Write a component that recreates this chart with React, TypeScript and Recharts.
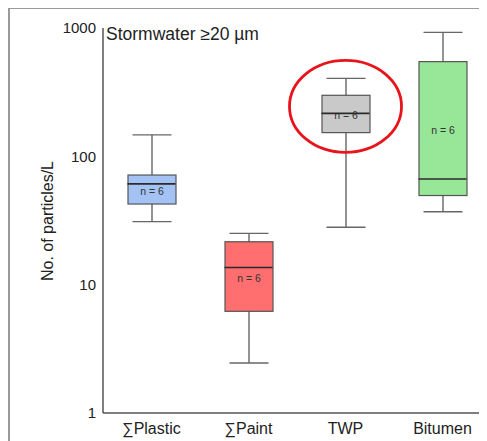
import React from 'react';
import { ComposedChart, Bar, Scatter, XAxis, YAxis, ReferenceDot } from 'recharts';

const CATEGORIES = ['∑Plastic', '∑Paint', 'TWP', 'Bitumen'];
const MINS = [31, 2.45, 28, 37];
const Q1S = [42.5, 6.2, 153, 49.5];
const MEDIANS = [61, 13.6, 216, 66.5];
const Q3S = [71.5, 21.6, 299, 547];
const MAXS = [147, 25.1, 405, 925];
const COUNTS = [6, 6, 6, 6];
const Y_TICKS = [1, 10, 100, 1000];
const HIGHLIGHT_CATEGORY = 'TWP';
const HIGHLIGHT_VALUE = 245;

const FILLS = ['#a4c2f4', '#ff6f6f', '#c9c9c9', '#98e698'];
const FONT = 'Arial, "Liberation Sans", sans-serif';

const data = CATEGORIES.map((name, i) => ({
  name,
  whisker: [MINS[i], MAXS[i]],
  box: [Q1S[i], Q3S[i]],
  median: MEDIANS[i],
  n: COUNTS[i],
  idx: i,
}));

const WhiskerShape = (props: any) => {
  const { x, y, width, height } = props;
  const cx = x + width / 2;
  const top = Math.min(y, y + height);
  const bottom = Math.max(y, y + height);
  return (
    <g stroke="#666" strokeWidth={1.4}>
      <line x1={cx} x2={cx} y1={top} y2={bottom} />
      <line x1={cx - 19.5} x2={cx + 19.5} y1={top} y2={top} />
      <line x1={cx - 19.5} x2={cx + 19.5} y1={bottom} y2={bottom} />
    </g>
  );
};

const BoxShape = (props: any) => {
  const { x, y, width, height, payload } = props;
  const top = Math.min(y, y + height);
  const h = Math.abs(height);
  return (
    <g>
      <rect x={x} y={top} width={width} height={h} fill={FILLS[payload.idx]} stroke="#555" strokeWidth={1.2} />
      <text
        x={x + width / 2}
        y={top + h / 2 + 1}
        textAnchor="middle"
        dominantBaseline="central"
        fontSize={10.5}
        fill="#333"
        fontFamily={FONT}
      >
        {`n = ${payload.n}`}
      </text>
    </g>
  );
};

const MedianShape = (props: any) => {
  const { cx, cy } = props;
  return <line x1={cx - 24} x2={cx + 24} y1={cy} y2={cy} stroke="#2a2a2a" strokeWidth={1.6} />;
};

const HighlightShape = (props: any) => {
  const { cx, cy } = props;
  return <ellipse cx={cx} cy={cy} rx={56} ry={46} fill="none" stroke="#e8141b" strokeWidth={2.8} />;
};

export default function App() {
  return (
    <div
      style={{
        position: 'relative',
        width: 477,
        height: 434,
        marginTop: -1,
        borderTop: '2px solid #9a9a9a',
        borderLeft: '2px solid #9a9a9a',
        overflow: 'hidden',
        fontFamily: FONT,
      }}
    >
      <ComposedChart
        width={490}
        height={440}
        data={data}
        margin={{ top: 19, right: 9, bottom: 6, left: 0 }}
        barSize={48}
        barGap={-48}
      >
        <XAxis
          dataKey="name"
          axisLine={{ stroke: '#555', strokeWidth: 1.5 }}
          tickLine={false}
          tickSize={0}
          tickMargin={10}
          height={30}
          tick={{ fontSize: 16, fill: '#222', fontFamily: FONT }}
        />
        <YAxis
          scale="log"
          domain={[1, 1000]}
          ticks={Y_TICKS}
          allowDataOverflow
          width={93}
          axisLine={{ stroke: '#555', strokeWidth: 1.5 }}
          tickLine={false}
          tickSize={0}
          tickMargin={7}
          tick={{ fontSize: 15, fill: '#222', fontFamily: FONT }}
        />
        <Bar dataKey="whisker" shape={<WhiskerShape />} isAnimationActive={false} />
        <Bar dataKey="box" shape={<BoxShape />} isAnimationActive={false} />
        <Scatter dataKey="median" shape={<MedianShape />} isAnimationActive={false} />
        <ReferenceDot
          x={HIGHLIGHT_CATEGORY}
          y={HIGHLIGHT_VALUE}
          r={1}
          shape={<HighlightShape />}
          ifOverflow="visible"
        />
      </ComposedChart>
      <div
        style={{
          position: 'absolute',
          left: 96,
          top: 17,
          fontSize: 17.5,
          lineHeight: '17px',
          color: '#222',
          whiteSpace: 'nowrap',
        }}
      >
        Stormwater ≥20 µm
      </div>
      <div
        style={{
          position: 'absolute',
          left: 38,
          top: 212,
          fontSize: 16,
          color: '#222',
          whiteSpace: 'nowrap',
          transform: 'translate(-50%, -50%) rotate(-90deg)',
        }}
      >
        No. of particles/L
      </div>
    </div>
  );
}
